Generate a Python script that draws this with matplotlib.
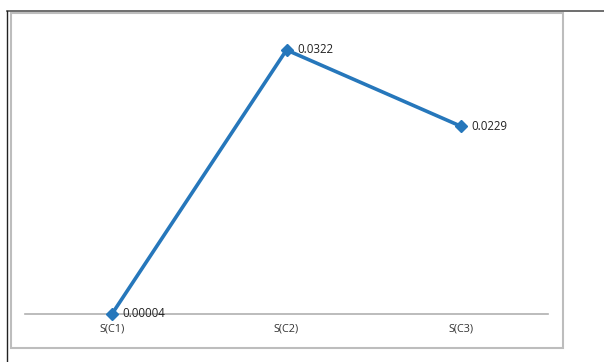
import matplotlib
matplotlib.use("Agg")
import matplotlib.pyplot as plt
from matplotlib.lines import Line2D
from matplotlib.patches import Rectangle

categories = ["S(C1)", "S(C2)", "S(C3)"]
values = [0.00004, 0.0322, 0.0229]
labels = ["0.00004", "0.0322", "0.0229"]

W, H = 604, 362
fig = plt.figure(figsize=(W / 100, H / 100), dpi=100)
fig.patch.set_facecolor("white")

# outer frame lines (top and left)
fig.add_artist(Line2D([7 / W, 1], [1 - 11 / H, 1 - 11 / H], color="#555555", lw=1.2))
fig.add_artist(Line2D([7 / W, 7 / W], [0, 1 - 11 / H], color="#222222", lw=1.0))
# inner chart border
fig.add_artist(Rectangle((11 / W, 1 - 348 / H), (563 - 11) / W, (348 - 13) / H,
                         fill=False, edgecolor="#bdbdbd", lw=1.5))

ax = fig.add_axes([25 / W, 1 - 314 / H, (548 - 25) / W, (314 - 27) / H])
x = list(range(len(categories)))
ax.plot(x, values, color="#2677bb", lw=2.6, marker="D", ms=6,
        markerfacecolor="#2677bb", markeredgecolor="#2677bb", zorder=3,
        clip_on=False)
for xi, v, t in zip(x, values, labels):
    ax.annotate(t, (xi, v), xytext=(7.5, 0), textcoords="offset points",
                va="center", ha="left", fontsize=8.3, color="#222222",
                family="Open Sans")

ax.set_xlim(-0.5, 2.5)
ax.set_ylim(0, 0.035)
ax.set_xticks(x)
ax.set_xticklabels(categories, fontsize=7.8, color="#333333", family="Open Sans")
ax.tick_params(axis="x", length=0, pad=7)
ax.set_yticks([])
for side in ["top", "right", "left"]:
    ax.spines[side].set_visible(False)
ax.spines["bottom"].set_color("#b0b0b0")
ax.spines["bottom"].set_linewidth(1.2)
ax.set_facecolor("none")

fig.savefig("out.png", dpi=100)
